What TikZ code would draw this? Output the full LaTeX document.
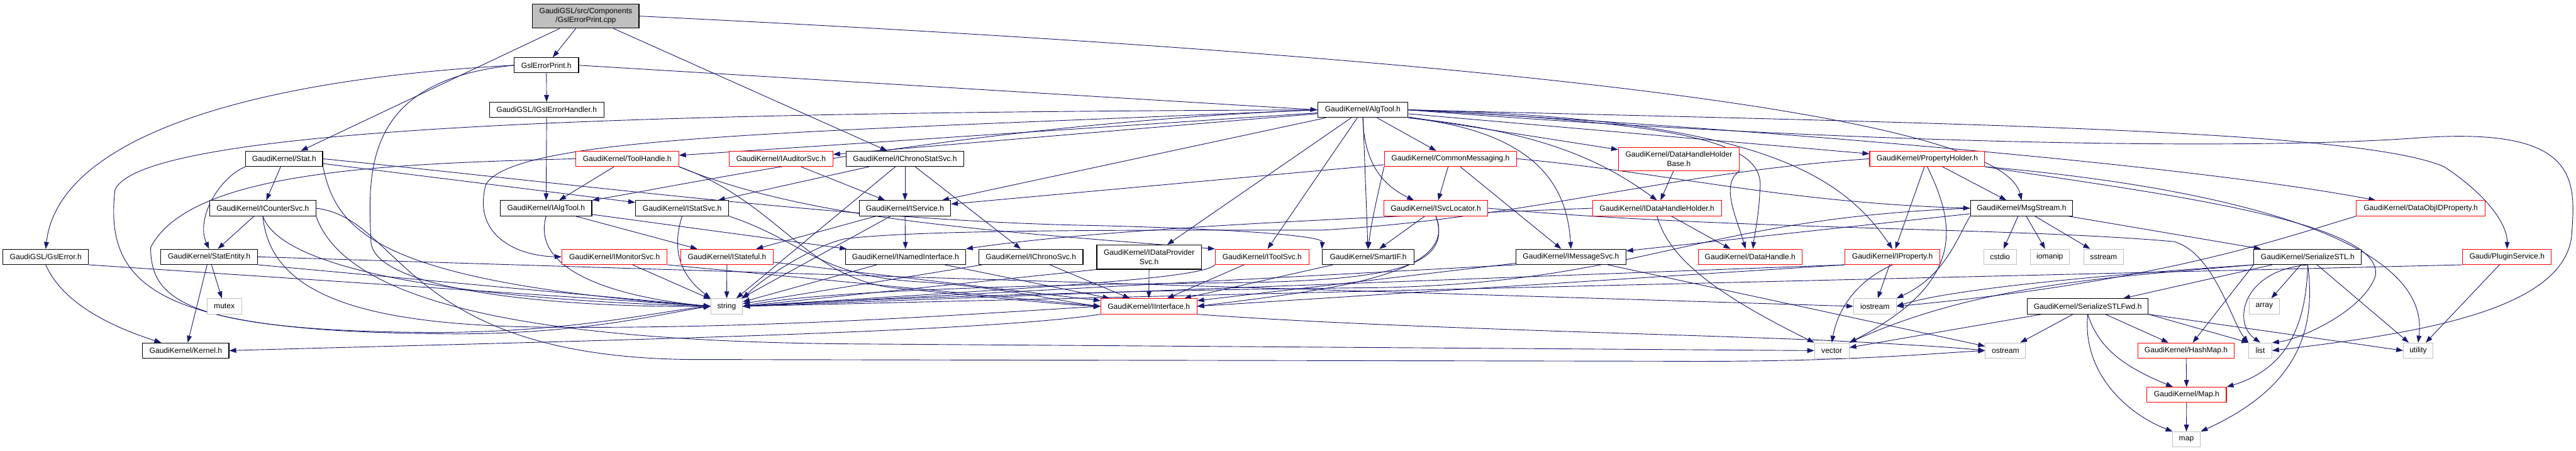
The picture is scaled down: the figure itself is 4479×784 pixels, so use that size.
\documentclass[tikz,border=0pt]{standalone}
\usepackage{fontspec}
\setmainfont{Liberation Sans}
\usetikzlibrary{arrows.meta,backgrounds}
\definecolor{edgec}{HTML}{191970}
\definecolor{graybd}{HTML}{BFBFBF}
\definecolor{topfill}{HTML}{BFBFBF}
\newcommand{\nodefont}{\fontsize{13.2}{15.7}\selectfont}
\tikzset{
  nb/.style={draw=black, fill=white, line width=1.2pt, inner sep=0pt, minimum height=26.5pt, font=\nodefont, align=center},
  nr/.style={nb, draw=red},
  ng/.style={nb, draw=graybd},
  e/.style={draw=edgec, line width=1pt, -{Triangle[length=12pt,width=8.5pt]}},
}
\begin{document}
\begin{tikzpicture}[x=1pt,y=-1pt]
\useasboundingbox (0,0) rectangle (4479,784);
% row 0
\node[nb, fill=topfill, minimum width=185pt, minimum height=42pt] (top) at (1018.5,28) {GaudiGSL/src/Components\\/GslErrorPrint.cpp};
% row 1
\node[nb, minimum width=112pt] (gep) at (950,113.5) {GslErrorPrint.h};
% row 2
\node[nb, minimum width=199pt] (igeh) at (950.5,191) {GaudiGSL/IGslErrorHandler.h};
\node[nb, minimum width=157pt] (algtool) at (2369.5,191) {GaudiKernel/AlgTool.h};
% row 3
\node[nb, minimum width=134pt] (stat) at (494,276) {GaudiKernel/Stat.h};
\node[nr, minimum width=179pt] (toolhandle) at (1090.5,276) {GaudiKernel/ToolHandle.h};
\node[nr, minimum width=180pt] (iauditor) at (1358,276) {GaudiKernel/IAuditorSvc.h};
\node[nb, minimum width=205pt] (ichronostat) at (1573.5,276) {GaudiKernel/IChronoStatSvc.h};
\node[nr, minimum width=230pt] (commsg) at (2522,276) {GaudiKernel/CommonMessaging.h};
\node[nr, minimum width=210pt, minimum height=41pt] (dhhb) at (2919,276.5) {GaudiKernel/DataHandleHolder\\Base.h};
\node[nr, minimum width=200pt] (propholder) at (3351,276) {GaudiKernel/PropertyHolder.h};
% row 4
\node[nb, minimum width=184pt] (icounter) at (457,362) {GaudiKernel/ICounterSvc.h};
\node[nb, minimum width=159pt] (ialgtool) at (949.5,362) {GaudiKernel/IAlgTool.h};
\node[nb, minimum width=162pt] (istatsvc) at (1186,362) {GaudiKernel/IStatSvc.h};
\node[nb, minimum width=159pt] (iservice) at (1573.5,362) {GaudiKernel/IService.h};
\node[nr, minimum width=181pt] (isvcloc) at (2496.5,362) {GaudiKernel/ISvcLocator.h};
\node[nr, minimum width=224pt] (idhh) at (2881,362) {GaudiKernel/IDataHandleHolder.h};
\node[nb, minimum width=178pt] (msgstream) at (3515,362) {GaudiKernel/MsgStream.h};
\node[nr, minimum width=224pt] (dataobjid) at (4209,362) {GaudiKernel/DataObjIDProperty.h};
% row 5
\node[nb, minimum width=149pt] (gslerror) at (79.5,446.5) {GaudiGSL/GslError.h};
\node[nb, minimum width=169pt] (statentity) at (363.5,446.5) {GaudiKernel/StatEntity.h};
\node[nr, minimum width=183pt] (imonitor) at (1068.5,446.5) {GaudiKernel/IMonitorSvc.h};
\node[nr, minimum width=160pt] (istateful) at (1264,446.5) {GaudiKernel/IStateful.h};
\node[nb, minimum width=209pt] (inamed) at (1574.5,446.5) {GaudiKernel/INamedInterface.h};
\node[nb, minimum width=181pt] (ichrono) at (1792.5,446.5) {GaudiKernel/IChronoSvc.h};
\node[nb, minimum width=182pt, minimum height=42pt] (idataprov) at (1998,447) {GaudiKernel/IDataProvider\\Svc.h};
\node[nr, minimum width=163pt] (itoolsvc) at (2194.5,446.5) {GaudiKernel/IToolSvc.h};
\node[nb, minimum width=160pt] (smartif) at (2379,446.5) {GaudiKernel/SmartIF.h};
\node[nb, minimum width=191pt] (imsgsvc) at (2731.5,446.5) {GaudiKernel/IMessageSvc.h};
\node[nr, minimum width=180pt] (datahandle) at (3043,446.5) {GaudiKernel/DataHandle.h};
\node[nr, minimum width=165pt] (iproperty) at (3290.5,446.5) {GaudiKernel/IProperty.h};
\node[ng, minimum width=57pt] (cstdio) at (3477.5,446.5) {cstdio};
\node[ng, minimum width=68pt] (iomanip) at (3564,446.5) {iomanip};
\node[ng, minimum width=69pt] (sstream) at (3657.5,446.5) {sstream};
\node[nb, minimum width=187pt] (serstl) at (4012.5,446.5) {GaudiKernel/SerializeSTL.h};
\node[nr, minimum width=154pt] (plugin) at (4359,446.5) {Gaudi/PluginService.h};
% row 6
\node[ng, minimum width=60pt] (mutex) at (390,532.5) {mutex};
\node[ng, minimum width=55pt] (string) at (1263.5,532.5) {string};
\node[nr, minimum width=167pt] (iinterface) at (1997.5,532.5) {GaudiKernel/IInterface.h};
\node[ng, minimum width=74pt] (iostream) at (3260,532.5) {iostream};
\node[nb, minimum width=210pt] (serfwd) at (3630,532.5) {GaudiKernel/SerializeSTLFwd.h};
\node[ng, minimum width=52pt] (array) at (3937,532.5) {array};
% row 7
\node[nb, minimum width=150pt] (kernel) at (323,609.5) {GaudiKernel/Kernel.h};
\node[ng, minimum width=60pt] (vector) at (3185,609.5) {vector};
\node[ng, minimum width=70pt] (ostream) at (3487,609.5) {ostream};
\node[nr, minimum width=168pt] (hashmap) at (3801,609.5) {GaudiKernel/HashMap.h};
\node[ng, minimum width=40pt] (list) at (3930,609.5) {list};
\node[ng, minimum width=51pt] (utility) at (4204.5,609.5) {utility};
% row 8, 9
\node[nr, minimum width=138pt] (maph) at (3802,686.5) {GaudiKernel/Map.h};
\node[ng, minimum width=49pt] (map) at (3801.5,764) {map};

\begin{scope}[on background layer]
% top
\draw[e] (top) -- (gep);
\draw[e] (top) -- (stat);
\draw[e] (top) -- (ichronostat);
\draw[e] (top.east) .. controls (2600,100) and (3480,200) .. (msgstream.north);
% GslErrorPrint.h
\draw[e] (gep) -- (igeh);
\draw[e] (gep.east) -- (algtool.west);
\draw[e] (gep.west) .. controls (400,140) and (100,250) .. (gslerror.north);
\draw[e] (gep.west) .. controls (630,140) and (640,300) .. (645,420) .. controls (650,510) and (1000,535) .. (string.west);
% IGslErrorHandler.h
\draw[e] (igeh) -- (ialgtool);
% AlgTool.h
\draw[e] (algtool) -- (toolhandle);
\draw[e] (algtool) -- (iauditor);
\draw[e] (algtool) -- (commsg);
\draw[e] (algtool) -- (dhhb);
\draw[e] (algtool) -- (propholder);
\draw[e] (algtool.west) .. controls (1700,215) and (1250,310) .. (ialgtool.north east);
\draw[e] (algtool) -- (iservice);
\draw[e] (algtool.south) .. controls (2372,280) and (2400,320) .. (isvcloc.160);
\draw[e] (algtool.south east) .. controls (2700,230) and (2800,290) .. (idhh.north);
\draw[e] (algtool.east) .. controls (3000,220) and (3800,285) .. (dataobjid.170);
\draw[e] (algtool.west) .. controls (1400,230) and (900,235) .. (845,320) .. controls (820,410) and (900,445) .. (imonitor.west);
\draw[e] (algtool) -- (idataprov);
\draw[e] (algtool) -- (itoolsvc);
\draw[e] (algtool) -- (smartif);
\draw[e] (algtool.south east) .. controls (2680,230) and (2725,330) .. (imsgsvc.north);
\draw[e] (algtool.east) .. controls (3050,205) and (3200,300) .. (iproperty.north);
\draw[e] (algtool.east) .. controls (2950,215) and (3070,250) .. (3060,330) .. controls (3058,380) and (3050,410) .. (datahandle.70);
\draw[e] (algtool.east) .. controls (3400,215) and (4100,225) .. (4250,290) .. controls (4340,350) and (4360,400) .. (plugin.north);
\draw[e] (algtool.west) .. controls (1200,195) and (250,215) .. (200,330) .. controls (180,500) and (280,575) .. (750,580) .. controls (1000,585) and (1150,545) .. (string.west);
\draw[e] (algtool.east) .. controls (3200,250) and (3900,262) .. (4200,240) .. controls (4470,220) and (4480,300) .. (4472,400) .. controls (4470,540) and (4200,580) .. (list.east);
% Stat.h
\draw[e] (stat) -- (icounter);
\draw[e] (stat.south west) .. controls (380,310) and (340,380) .. (statentity.north);
\draw[e] (stat.south east) .. controls (585,400) and (650,490) .. (string.west);
\draw[e] (stat) -- (istatsvc);
\draw[e] (stat.east) .. controls (1000,320) and (1500,385) .. (1900,392) .. controls (2150,398) and (2300,410) .. (smartif.north west);
% ToolHandle.h
\draw[e] (toolhandle) -- (ialgtool);
\draw[e] (toolhandle.south east) .. controls (1400,380) and (1700,400) .. (itoolsvc.north west);
\draw[e] (toolhandle.west) .. controls (650,285) and (330,300) .. (262,430) .. controls (262,520) and (320,575) .. (750,578) .. controls (1000,578) and (1150,540) .. (string.west);
\draw[e] (toolhandle.south east) .. controls (1350,350) and (1400,480) .. (1550,500) .. controls (1700,515) and (1850,530) .. (iinterface.west);
% IAuditorSvc.h
\draw[e] (iauditor) -- (iservice);
% IChronoStatSvc.h
\draw[e] (ichronostat) -- (iservice);
\draw[e] (ichronostat) -- (ichrono);
\draw[e] (ichronostat) -- (istatsvc);
\draw[e] (ichronostat) -- (string);
% CommonMessaging.h
\draw[e] (commsg) -- (iservice);
\draw[e] (commsg.south west) .. controls (2400,320) and (2385,380) .. (smartif.north);
\draw[e] (commsg) -- (isvcloc);
\draw[e] (commsg) -- (imsgsvc);
\draw[e] (commsg.east) .. controls (2900,300) and (3100,352) .. (msgstream.west);
% DataHandleHolderBase.h
\draw[e] (dhhb) -- (idhh);
\draw[e] (dhhb.south east) .. controls (2990,320) and (3020,380) .. (datahandle.120);
% PropertyHolder.h
\draw[e] (propholder) -- (iproperty);
\draw[e] (propholder) -- (msgstream);
\draw[e] (propholder.west) .. controls (2900,300) and (2650,380) .. (2300,400) .. controls (1900,400) and (1600,400) .. (1470,415) .. controls (1420,425) and (1330,480) .. (string.north east);
\draw[e] (propholder.south) .. controls (3400,390) and (3420,490) .. (vector.north east);
\draw[e] (propholder.south east) .. controls (3800,320) and (4230,400) .. (utility.north);
\draw[e] (propholder.south east) .. controls (3700,330) and (4150,380) .. (4130,480) .. controls (4110,540) and (4000,590) .. (list.north east);
% ICounterSvc.h
\draw[e] (icounter) -- (statentity);
\draw[e] (icounter.south) .. controls (490,470) and (800,520) .. (string.west);
\draw[e] (icounter.south) .. controls (470,520) and (650,560) .. (900,568) .. controls (1300,575) and (1700,545) .. (iinterface.west);
\draw[e] (icounter.south east) .. controls (600,520) and (900,595) .. (1500,598) -- (vector.west);
\draw[e] (icounter.east) .. controls (700,380) and (700,620) .. (1200,625) -- (2900,628) .. controls (3200,630) and (3350,615) .. (ostream.west);
% IAlgTool.h
\draw[e] (ialgtool) -- (inamed);
\draw[e] (ialgtool) -- (istateful);
\draw[e] (ialgtool.south) .. controls (920,480) and (1100,520) .. (string.west);
% IStatSvc.h
\draw[e] (istatsvc.south) .. controls (1172,420) and (1172,470) .. (string.north west);
\draw[e] (istatsvc.south east) .. controls (1400,420) and (1420,480) .. (1600,490) .. controls (1750,500) and (1850,525) .. (iinterface.west);
% IService.h
\draw[e] (iservice) -- (inamed);
\draw[e] (iservice) -- (istateful);
\draw[e] (iservice) -- (string);
% ISvcLocator.h
\draw[e] (isvcloc) -- (smartif);
\draw[e] (isvcloc.south) .. controls (2540,480) and (2300,505) .. (iinterface.east);
\draw[e] (isvcloc.south) .. controls (2530,470) and (2400,490) .. (2100,492) .. controls (1700,496) and (1400,510) .. (string.east);
\draw[e] (isvcloc.east) .. controls (3000,400) and (3500,395) .. (3780,420) .. controls (3850,440) and (3880,560) .. (list.north west);
% IDataHandleHolder.h
\draw[e] (idhh) -- (datahandle.158);
\draw[e] (idhh.west) .. controls (2300,380) and (1900,400) .. (inamed.north east);
\draw[e] (idhh.south) .. controls (2900,440) and (2960,500) .. (vector.north west);
% MsgStream.h
\draw[e] (msgstream) -- (imsgsvc);
\draw[e] (msgstream.west) .. controls (2950,380) and (2860,490) .. (2400,500) .. controls (1900,505) and (1500,520) .. (string.east);
\draw[e] (msgstream) -- (cstdio);
\draw[e] (msgstream) -- (iomanip);
\draw[e] (msgstream) -- (sstream);
\draw[e] (msgstream) -- (serstl);
\draw[e] (msgstream.south west) .. controls (3400,420) and (3380,480) .. (iostream.north east);
% DataObjIDProperty.h
\draw[e] (dataobjid.south west) .. controls (3950,420) and (3750,490) .. (iostream.east);
% GslError.h
\draw[e] (gslerror.south) .. controls (110,530) and (200,570) .. (kernel.162);
\draw[e] (gslerror.south east) -- (string.west);
% StatEntity.h
\draw[e] (statentity) -- (mutex);
\draw[e] (statentity) -- (kernel);
\draw[e] (statentity.south east) -- (string.west);
\draw[e] (statentity.east) -- (iostream.west);
% row 5 interfaces
\draw[e] (imonitor) -- (string);
\draw[e] (imonitor.south east) -- (iinterface.west);
\draw[e] (istateful) -- (string);
\draw[e] (istateful) -- (iinterface);
\draw[e] (inamed) -- (iinterface);
\draw[e] (inamed) -- (string);
\draw[e] (ichrono) -- (iinterface);
\draw[e] (ichrono) -- (string);
\draw[e] (idataprov) -- (iinterface);
\draw[e] (idataprov.south west) -- (string.east);
\draw[e] (itoolsvc) -- (iinterface);
\draw[e] (itoolsvc.south west) .. controls (2090,485) and (1800,500) .. (string.east);
\draw[e] (smartif) -- (iinterface);
\draw[e] (imsgsvc) -- (iinterface);
\draw[e] (imsgsvc.south west) -- (string.east);
\draw[e] (imsgsvc) -- (ostream);
\draw[e] (iproperty.south west) -- (iinterface.east);
\draw[e] (iproperty) -- (iostream);
\draw[e] (iproperty.south) .. controls (3225,490) and (3195,540) .. (vector.north);
\draw[e] (iproperty.south west) -- (string.east);
% IInterface.h
\draw[e] (iinterface.south west) .. controls (1700,580) and (900,595) .. (kernel.east);
\draw[e] (iinterface.south east) .. controls (2400,570) and (2900,580) .. (3180,592) .. controls (3300,598) and (3400,604) .. (ostream.west);
% SerializeSTLFwd.h
\draw[e] (serfwd) -- (ostream);
\draw[e] (serfwd) -- (vector);
\draw[e] (serfwd.south east) -- (list.north west);
\draw[e] (serfwd.south east) -- (utility.west);
\draw[e] (serfwd) -- (hashmap);
\draw[e] (serfwd.south) .. controls (3650,610) and (3700,640) .. (maph.150);
\draw[e] (serfwd.south) .. controls (3620,650) and (3700,720) .. (map.150);
% SerializeSTL.h
\draw[e] (serstl) -- (serfwd);
\draw[e] (serstl) -- (array);
\draw[e] (serstl.south) .. controls (3900,470) and (3880,560) .. (list.north);
\draw[e] (serstl) -- (utility);
\draw[e] (serstl.south west) -- (hashmap.50);
\draw[e] (serstl.south) .. controls (4010,560) and (3980,640) .. (maph.north east);
\draw[e] (serstl.south) .. controls (4030,590) and (3980,680) .. (map.north east);
\draw[e] (serstl.south west) .. controls (3700,480) and (3450,490) .. (vector.north east);
\draw[e] (serstl.south west) .. controls (3700,475) and (3400,500) .. (iostream.east);
% PluginService.h
\draw[e] (plugin) -- (utility);
\draw[e] (plugin.south west) -- (string.east);
% maps
\draw[e] (hashmap) -- (maph);
\draw[e] (maph) -- (map);
\end{scope}
\end{tikzpicture}
\end{document}
